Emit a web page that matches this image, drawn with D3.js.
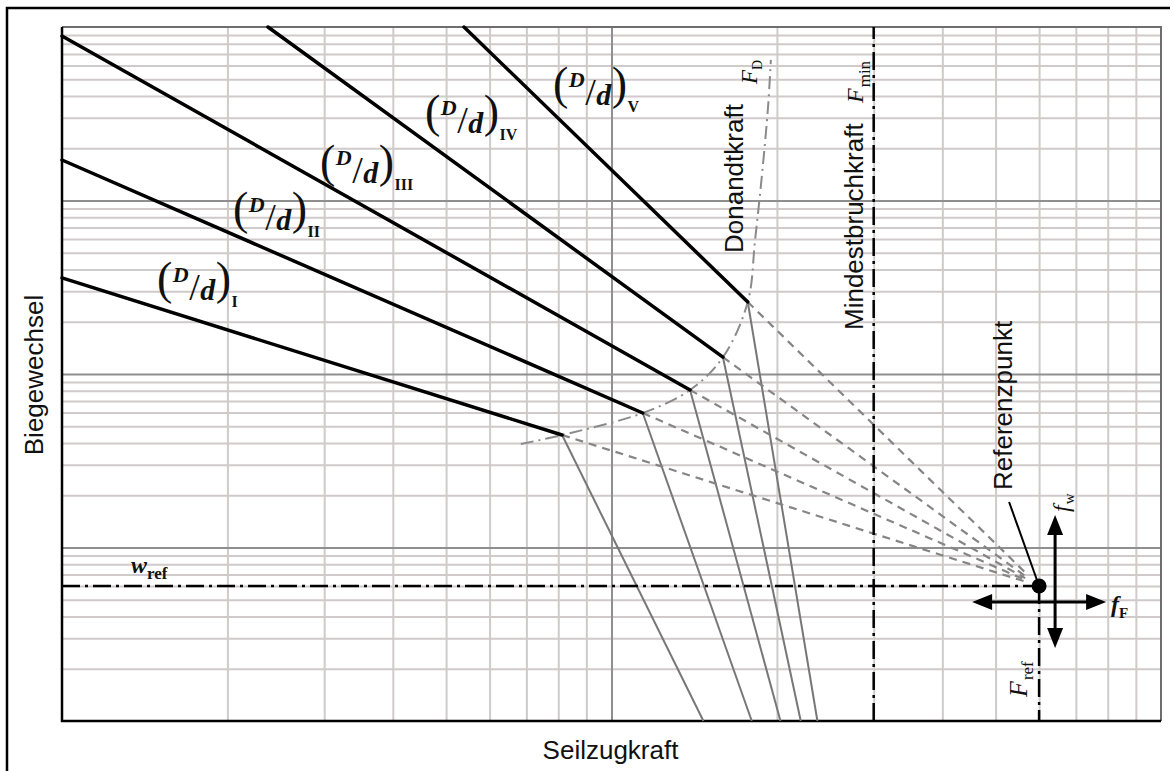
<!DOCTYPE html>
<html>
<head>
<meta charset="utf-8">
<script src="https://cdn.jsdelivr.net/npm/d3@7"></script>
<style>
  html, body { margin: 0; padding: 0; background: #fff; }
  svg { display: block; }
</style>
</head>
<body>
<svg id="chart" width="1173" height="771"></svg>
<script>
// ---- values (log-log diagram: rope tension vs. bending cycles) ----
const forceDomain = [1, 100];      // Seilzugkraft
const cycleDomain = [1, 10000];    // Biegewechsel

const ratioNames = ["I", "II", "III", "IV", "V"];
// upper end of each fatigue line (where it leaves the plot)
const lineStartF = [1, 1, 1, 2.37, 5.39];
const lineStartW = [358, 1712, 8870, 10000, 10000];
// knee points lying on the Donandt curve
const kneeF = [8.13, 11.4, 13.9, 15.95, 17.7];
const kneeW = [44.5, 59.6, 80.9, 125, 260];
// steep branch reaching w = 1
const steepEndF = [14.7, 18.0, 20.3, 22.1, 23.7];

// Donandt force curve
const donandtF = [6.84, 8.13, 11.4, 13.9, 15.95, 17.7, 18.25, 18.8, 19.27, 19.5];
const donandtW = [39.5, 44.5, 59.6, 80.9, 125, 260, 592, 1440, 3460, 6460];

const minBreakF = 30;   // Mindestbruchkraft
const refF = 60;        // F_ref
const refW = 6;         // w_ref

// label anchors of the (D/d) families, in data units
const ratioLabelF = [1.489, 2.047, 2.948, 4.577, 7.826];
const ratioLabelW = [289, 732, 1366, 2652, 3846];

// ---- layout ----
const plot = { left: 62, right: 1161, top: 27, bottom: 721 };
const x = d3.scaleLog().domain(forceDomain).range([plot.left, plot.right]);
const y = d3.scaleLog().domain(cycleDomain).range([plot.bottom, plot.top]);

const svg = d3.select("#chart");
const sans = "'Liberation Sans', Arial, sans-serif";
const serif = "'Liberation Serif', 'Times New Roman', serif";

// outer frame
svg.append("path")
  .attr("d", "M7,771 V8 H1170")
  .attr("fill", "none").attr("stroke", "#000").attr("stroke-width", 2.5);

// ---- log grid ----
const minorX = [], minorY = [];
for (const d of [1, 10]) for (let k = 2; k <= 9; k++) minorX.push(k * d);
for (const d of [1, 10, 100, 1000]) for (let k = 2; k <= 9; k++) minorY.push(k * d);
const decadeX = [10];
const decadeY = [10, 100, 1000];

function gridX(values, color) {
  const g = svg.append("g")
    .attr("transform", `translate(0,${plot.bottom})`)
    .call(d3.axisBottom(x).tickValues(values).tickSize(-(plot.bottom - plot.top)).tickFormat(""));
  g.select(".domain").remove();
  g.selectAll("line").attr("stroke", color).attr("stroke-width", 2);
}
function gridY(values, color) {
  const g = svg.append("g")
    .attr("transform", `translate(${plot.left},0)`)
    .call(d3.axisLeft(y).tickValues(values).tickSize(-(plot.right - plot.left)).tickFormat(""));
  g.select(".domain").remove();
  g.selectAll("line").attr("stroke", color).attr("stroke-width", 2);
}
gridY(minorY, "#d0caca");
gridX(minorX, "#d0caca");
gridY(decadeY, "#8f8f8f");
gridX(decadeX, "#8f8f8f");

// plot border: top/right grey, left/bottom black
svg.append("path")
  .attr("d", `M${plot.left},${plot.top} H${plot.right} V${plot.bottom}`)
  .attr("fill", "none").attr("stroke", "#6e6e6e").attr("stroke-width", 2);
svg.append("path")
  .attr("d", `M${plot.left},${plot.top} V${plot.bottom} H${plot.right}`)
  .attr("fill", "none").attr("stroke", "#000").attr("stroke-width", 2.5);

const line = d3.line().x(d => x(d[0])).y(d => y(d[1]));

// steep branches below the knee
ratioNames.forEach((n, i) => {
  svg.append("path")
    .attr("d", line([[kneeF[i], kneeW[i]], [steepEndF[i], 1]]))
    .attr("fill", "none").attr("stroke", "#777").attr("stroke-width", 2);
});

// dashed rays from each knee towards the reference point
const rx = x(refF), ry = y(refW);
ratioNames.forEach((n, i) => {
  const kx = x(kneeF[i]), ky = y(kneeW[i]);
  const len = Math.hypot(rx - kx, ry - ky);
  const t = (len - 16) / len;
  svg.append("line")
    .attr("x1", kx).attr("y1", ky)
    .attr("x2", kx + (rx - kx) * t).attr("y2", ky + (ry - ky) * t)
    .attr("stroke", "#858585").attr("stroke-width", 2.2)
    .attr("stroke-dasharray", "8,6");
});

// Donandt curve
svg.append("path")
  .datum(donandtF.map((f, i) => [f, donandtW[i]]))
  .attr("d", d3.line().x(d => x(d[0])).y(d => y(d[1])).curve(d3.curveCatmullRom.alpha(0.5)))
  .attr("fill", "none").attr("stroke", "#8a8a8a").attr("stroke-width", 2)
  .attr("stroke-dasharray", "13,5,2,5");

// fatigue lines per D/d
ratioNames.forEach((n, i) => {
  svg.append("path")
    .attr("d", line([[lineStartF[i], lineStartW[i]], [kneeF[i], kneeW[i]]]))
    .attr("fill", "none").attr("stroke", "#000").attr("stroke-width", 3.5)
    .attr("stroke-linecap", "round");
});

// reference lines
const dashDot = "18,5,3,5";
svg.append("path").attr("d", line([[minBreakF, cycleDomain[0]], [minBreakF, cycleDomain[1]]]))
  .attr("stroke", "#000").attr("stroke-width", 2.5).attr("stroke-dasharray", dashDot);
svg.append("path").attr("d", line([[forceDomain[0], refW], [refF, refW]]))
  .attr("stroke", "#000").attr("stroke-width", 2.5).attr("stroke-dasharray", dashDot);
svg.append("path").attr("d", line([[refF, refW], [refF, cycleDomain[0]]]))
  .attr("stroke", "#000").attr("stroke-width", 2.5).attr("stroke-dasharray", dashDot);

// leader to the reference point
svg.append("line")
  .attr("x1", rx - 30).attr("y1", ry - 84).attr("x2", rx).attr("y2", ry)
  .attr("stroke", "#000").attr("stroke-width", 2);

// direction arrows f_F and f_w
function arrowHead(tx, ty, dx, dy) {
  const L = 20, Wd = 8;
  const bx = tx - dx * L, by = ty - dy * L;
  svg.append("path")
    .attr("d", `M${tx},${ty} L${bx - dy * Wd},${by + dx * Wd} L${bx + dy * Wd},${by - dx * Wd} Z`)
    .attr("fill", "#000");
}
const ay = ry + 16, ax = rx + 16;
svg.append("line").attr("x1", rx - 60).attr("y1", ay).attr("x2", rx + 60).attr("y2", ay)
  .attr("stroke", "#000").attr("stroke-width", 3);
arrowHead(rx - 67, ay, -1, 0);
arrowHead(rx + 67, ay, 1, 0);
svg.append("line").attr("x1", ax).attr("y1", ry - 64).attr("x2", ax).attr("y2", ry + 55)
  .attr("stroke", "#000").attr("stroke-width", 3);
arrowHead(ax, ry - 71, 0, -1);
arrowHead(ax, ry + 62, 0, 1);

svg.append("circle").attr("cx", rx).attr("cy", ry).attr("r", 7.5).attr("fill", "#000");

// ---- texts ----
function vtext(px, py, str, size, family) {
  return svg.append("text")
    .attr("transform", `translate(${px},${py}) rotate(-90)`)
    .attr("font-family", family || sans).attr("font-size", size)
    .attr("fill", "#111").text(str);
}
svg.append("text").attr("x", 610.5).attr("y", 759).attr("text-anchor", "middle")
  .attr("font-family", sans).attr("font-size", 26).attr("fill", "#111").text("Seilzugkraft");
vtext(43, 375, "Biegewechsel", 26).attr("text-anchor", "middle");
vtext(863, 330, "Mindestbruchkraft", 26);
vtext(743, 253, "Donandtkraft", 26);
vtext(1012, 490, "Referenzpunkt", 26);

// symbol with subscript
function symbol(px, py, rotate, main, sub, o) {
  const t = svg.append("text")
    .attr("transform", `translate(${px},${py})` + (rotate ? " rotate(-90)" : ""))
    .attr("font-family", serif).attr("fill", "#111");
  t.append("tspan").text(main).attr("font-size", o.size).attr("font-style", "italic")
    .attr("font-weight", o.bold ? "bold" : "normal");
  t.append("tspan").text(sub).attr("font-size", o.subSize).attr("dy", o.dy).attr("dx", o.dx || 0)
    .attr("font-weight", o.bold ? "bold" : "normal");
  return t;
}
symbol(863, 103, true, "F", "min", { size: 24, subSize: 17, dy: 7, dx: 1 });
symbol(757, 84, true, "F", "D", { size: 23, subSize: 14, dy: 5, dx: 0 });
symbol(1027, 697, true, "F", "ref", { size: 26, subSize: 17, dy: 6, dx: 1 });
symbol(1069, 512, true, "f", "w", { size: 24, subSize: 15, dy: 5, dx: 1 });
symbol(1111, 612, false, "f", "F", { size: 24, subSize: 15, dy: 6, dx: 0, bold: true });
symbol(131, 573, false, "w", "ref", { size: 24, subSize: 17, dy: 6, dx: 0, bold: true });

// (D/d) family labels: one flowing text run, pieces shifted vertically
const ratioParts = [
  { t: "(", dy: 0,   size: 46 },
  { t: "D", dy: -12, size: 22, bold: true, italic: true },
  { t: "/", dy: 18,  size: 38 },
  { t: "d", dy: 0,   size: 30, bold: true, italic: true },
  { t: ")", dy: -6,  size: 46 },
  { t: null, dy: 13, size: 16, bold: true }
];
ratioNames.forEach((n, i) => {
  const x0 = x(ratioLabelF[i]), b = y(ratioLabelW[i]);
  const txt = svg.append("text").attr("x", x0).attr("y", b)
    .attr("font-family", serif).attr("fill", "#111");
  ratioParts.forEach((p, k) => {
    txt.append("tspan")
      .attr("dx", k === 0 ? 0 : 0.5).attr("dy", p.dy)
      .attr("font-size", p.size)
      .attr("font-weight", p.bold ? "bold" : "normal")
      .attr("font-style", p.italic ? "italic" : "normal")
      .text(p.t === null ? n : p.t);
  });
});
</script>
</body>
</html>
